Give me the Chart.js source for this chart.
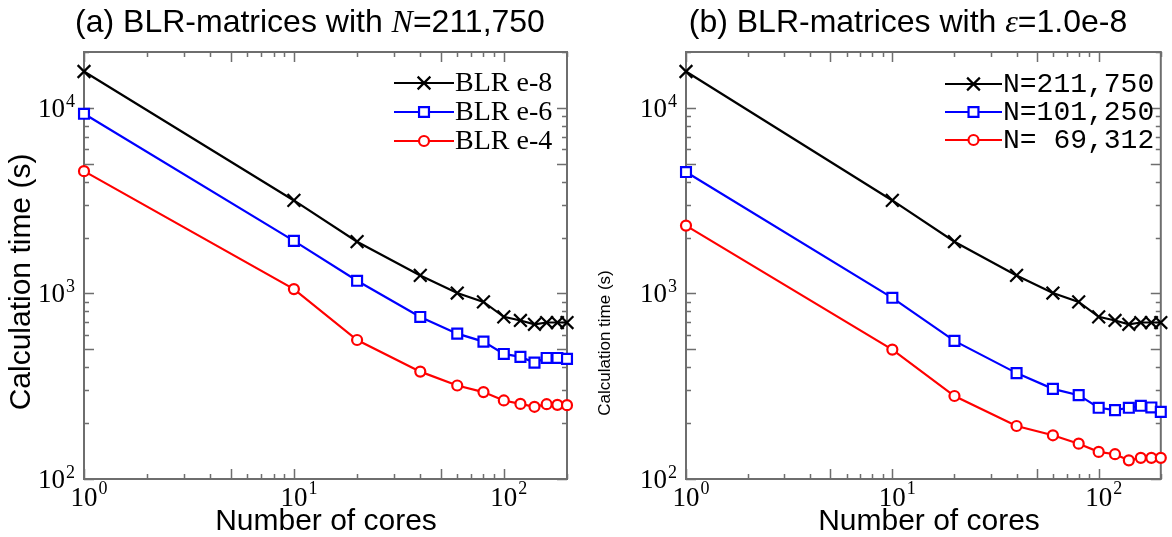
<!DOCTYPE html>
<html>
<head>
<meta charset="utf-8">
<script src="https://cdn.jsdelivr.net/npm/chart.js@4.4.0/dist/chart.umd.min.js"></script>
<style>
  html, body { margin: 0; padding: 0; background: #fff; }
  #wrap { position: relative; width: 1172px; height: 537px; overflow: hidden; font-family: 'Liberation Sans', Arial, sans-serif; color: #000; }
  canvas { position: absolute; top: 0; }
  #chartA { left: 0; }
  #chartB { left: 586px; }
  .ttl { position: absolute; top: 5px; width: 620px; text-align: center; font-size: 32px; line-height: 32px; white-space: nowrap; }
  .ttl i { font-family: 'Liberation Serif', 'Times New Roman', serif; }
  .xlab { position: absolute; top: 505px; width: 400px; text-align: center; font-size: 30px; line-height: 30px; white-space: nowrap; }
  .ylab { position: absolute; text-align: center; white-space: nowrap; transform: rotate(-90deg); }
</style>
</head>
<body>
<div id="wrap">
  <canvas id="chartA" width="586" height="537"></canvas>
  <canvas id="chartB" width="586" height="537"></canvas>
  <div class="ttl" style="left:0px;">(a) BLR-matrices with <i>N</i>=211,750</div>
  <div class="ttl" style="left:598px;">(b) BLR-matrices with <i>ε</i>=1.0e-8</div>
  <div class="xlab" style="left:126px;">Number of cores</div>
  <div class="xlab" style="left:729px;">Number of cores</div>
  <div class="ylab" style="left:-130px; top:266px; width:300px; height:32px; line-height:32px; font-size:30px;">Calculation time (s)</div>
  <div class="ylab" style="left:505px; top:333px; width:200px; height:20px; line-height:20px; font-size:17px;">Calculation time (s)</div>
</div>
<script>
// 코어 수 (x축)
const cores = [1, 10, 20, 40, 60, 80, 100, 120, 140, 160, 180, 200];

// (a) N=211,750, 허용오차별 계산 시간 (s)
const blrE8 = [15700, 3170, 1900, 1250, 1005, 900, 748, 715, 682, 697, 697, 697];
const blrE6 = [9290, 1920, 1170, 747, 607, 550, 472, 455, 424, 449, 449, 444];
const blrE4 = [4560, 1055, 561, 379, 319, 294, 265, 254, 245, 253, 251, 250];

// (b) ε=1.0e-8, 행렬 크기별 계산 시간 (s)
const n211750 = blrE8;
const n101250 = [4510, 947, 555, 372, 306, 283, 242, 235, 242, 248, 243, 230];
const n69312 = [2320, 498, 280, 193, 172, 155, 140, 136, 126, 130, 130, 130];

// 축 범위
const xRange = [1, 200];
const yRange = [100, 20000];

function logTicks(min, max) {
    const out = [];
    for (let e = Math.floor(Math.log10(min)); e <= Math.ceil(Math.log10(max)); e++) {
        for (let m = 1; m <= 9; m++) {
            const v = m * Math.pow(10, e);
            if (v >= min * 0.9999 && v <= max * 1.0001) {
                out.push({ value: v, long: m === 1 || m === 5, exp: m === 1 ? e : null });
            }
        }
    }
    return out;
}

// 틀, 눈금, 10^n 라벨을 그리는 플러그인
const framePlugin = {
    id: 'frame',
    beforeDatasetsDraw(chart) {
        const { ctx, chartArea: a, scales: { x, y } } = chart;
        ctx.save();
        ctx.strokeStyle = '#6e6e6e';
        ctx.lineWidth = 1.5;
        ctx.beginPath();
        logTicks(x.min, x.max).forEach(t => {
            const px = Math.round(x.getPixelForValue(t.value)) + 0.5;
            const len = t.long ? 10 : 5;
            ctx.moveTo(px, a.bottom); ctx.lineTo(px, a.bottom - len);
            ctx.moveTo(px, a.top); ctx.lineTo(px, a.top + len);
        });
        logTicks(y.min, y.max).forEach(t => {
            const py = Math.round(y.getPixelForValue(t.value)) + 0.5;
            const len = t.long ? 10 : 5;
            ctx.moveTo(a.left, py); ctx.lineTo(a.left + len, py);
            ctx.moveTo(a.right, py); ctx.lineTo(a.right - len, py);
        });
        ctx.stroke();
        ctx.lineWidth = 2;
        ctx.strokeRect(a.left, a.top, a.right - a.left, a.bottom - a.top);

        ctx.fillStyle = '#000';
        ctx.textBaseline = 'alphabetic';
        ctx.textAlign = 'left';
        const big = '27px "Liberation Serif", "Times New Roman", serif';
        const small = '18px "Liberation Serif", "Times New Roman", serif';
        logTicks(x.min, x.max).filter(t => t.exp !== null).forEach(t => {
            const px = x.getPixelForValue(t.value);
            ctx.font = big;
            const w = ctx.measureText('10').width;
            ctx.fillText('10', px - w / 2, a.bottom + 27);
            ctx.font = small;
            ctx.fillText(String(t.exp), px + w / 2 + 1, a.bottom + 15);
        });
        logTicks(y.min, y.max).filter(t => t.exp !== null).forEach(t => {
            const py = y.getPixelForValue(t.value);
            ctx.font = small;
            const ws = ctx.measureText(String(t.exp)).width;
            ctx.fillText(String(t.exp), a.left - 9 - ws, py - 1);
            ctx.font = big;
            const w = ctx.measureText('10').width;
            ctx.fillText('10', a.left - 10 - ws - w, py + 9);
        });
        ctx.restore();
    },
    afterDatasetsDraw(chart, args, opts) {
        const { ctx } = chart;
        ctx.save();
        chart.data.datasets.forEach((ds, i) => {
            const cy = opts.top + i * opts.gap;
            ctx.strokeStyle = ds.borderColor;
            ctx.lineWidth = 2.2;
            ctx.beginPath();
            ctx.moveTo(opts.left, cy);
            ctx.lineTo(opts.left + opts.len, cy);
            ctx.stroke();
            ctx.fillStyle = '#ffffff';
            Chart.helpers.drawPoint(ctx, {
                pointStyle: ds.pointStyle, radius: ds.pointRadius, borderWidth: 2, rotation: 0
            }, opts.left + opts.len / 2, cy);
            ctx.fillStyle = '#000';
            ctx.font = opts.font;
            ctx.textBaseline = 'middle';
            ctx.fillText(ds.label, opts.left + opts.len + 1, cy + 1);
        });
        ctx.restore();
    }
};

function series(label, values, color, marker, radius) {
    return {
        label: label,
        data: cores.map((c, i) => ({ x: c, y: values[i] })),
        borderColor: color,
        backgroundColor: 'rgba(0,0,0,0)',
        pointBorderColor: color,
        pointBackgroundColor: '#ffffff',
        pointStyle: marker,
        pointRadius: radius,
        pointBorderWidth: 2.2,
        borderWidth: 2.2,
        tension: 0,
        clip: false
    };
}

function makeChart(id, datasets, padding, legend) {
    return new Chart(document.getElementById(id), {
        type: 'line',
        data: { datasets: datasets },
        options: {
            responsive: false,
            animation: false,
            layout: { padding: padding },
            scales: {
                x: { type: 'logarithmic', min: xRange[0], max: xRange[1], display: false },
                y: { type: 'logarithmic', min: yRange[0], max: yRange[1], display: false }
            },
            plugins: { legend: { display: false }, tooltip: { enabled: false }, frame: legend }
        },
        plugins: [framePlugin]
    });
}

makeChart('chartA', [
    series('BLR e-8', blrE8, '#000000', 'crossRot', 9),
    series('BLR e-6', blrE6, '#0000ff', 'rect', 7),
    series('BLR e-4', blrE4, '#ff0000', 'circle', 5)
], { left: 84, right: 19, top: 52, bottom: 58 },
   { left: 394, len: 60, top: 83, gap: 29, font: '28px "Liberation Serif", "Times New Roman", serif' });

makeChart('chartB', [
    series('N=211,750', n211750, '#000000', 'crossRot', 9),
    series('N=101,250', n101250, '#0000ff', 'rect', 7),
    series('N= 69,312', n69312, '#ff0000', 'circle', 5)
], { left: 100, right: 3, top: 52, bottom: 58 },
   { left: 359, len: 57, top: 84, gap: 28, font: '28px "Liberation Mono", "Courier New", monospace' });
</script>
</body>
</html>
